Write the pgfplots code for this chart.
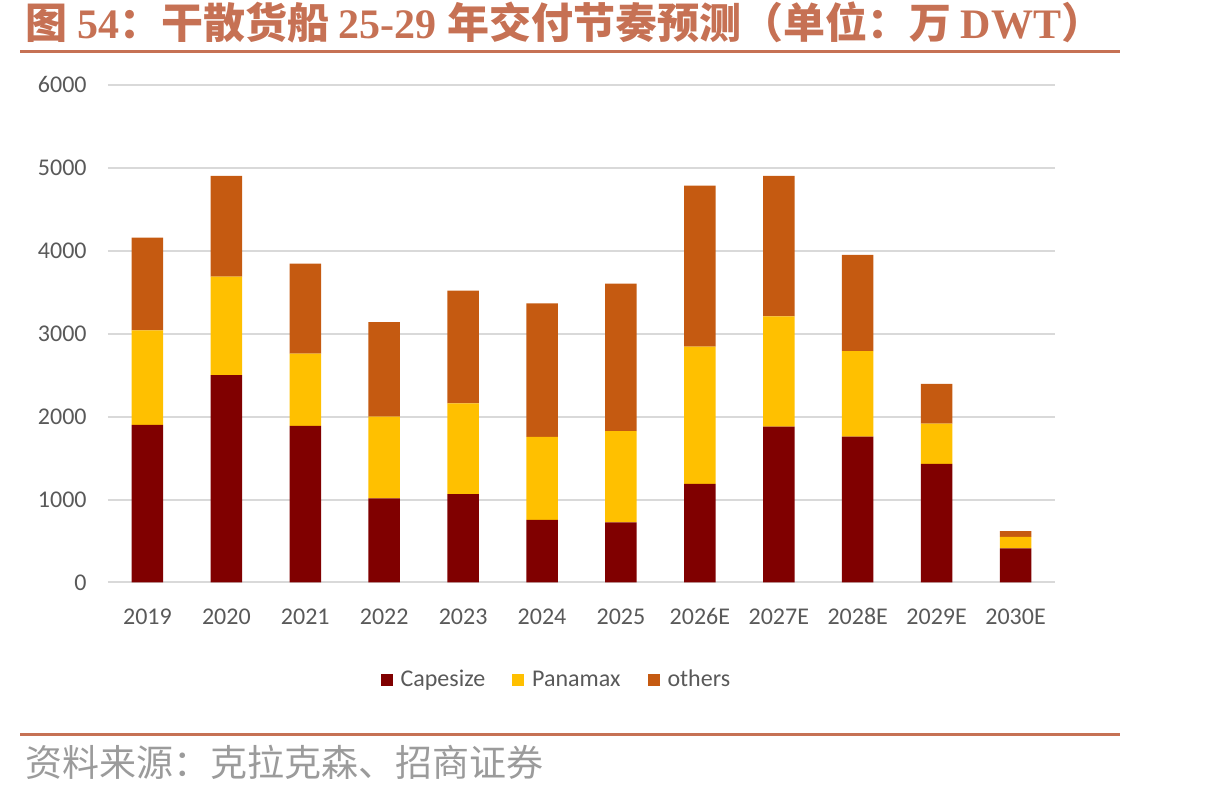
\documentclass[border=0pt]{standalone}
\usepackage{fontspec}
\usepackage{pgfplots}
\usepackage{pgfplotstable}
\pgfplotsset{compat=1.18}
\setmainfont{Carlito}
\newfontfamily\cjk{Noto Sans CJK SC}
\newfontfamily\tnr{Liberation Serif}

\definecolor{capecol}{RGB}{128,0,0}
\definecolor{panacol}{RGB}{255,192,0}
\definecolor{othcol}{RGB}{197,90,17}
\definecolor{headcol}{RGB}{198,113,84}
\definecolor{ticktxt}{RGB}{89,89,89}
\definecolor{gridcol}{RGB}{217,217,217}
\definecolor{srccol}{RGB}{155,155,155}

% deliveries, 10k DWT
\pgfplotstableread{
x cape pana others
0  1900 1140 1120
1  2500 1190 1215
2  1890  870 1085
3  1015  985 1140
4  1065 1095 1360
5   755 1000 1610
6   725 1100 1780
7  1190 1655 1940
8  1880 1330 1695
9  1760 1030 1160
10 1430  485  480
11  410  140   70
}\deliveries

\begin{document}
\begin{tikzpicture}
\path[use as bounding box] (0,0) rectangle (603.5pt,397.5pt);

% heading
\node[anchor=base west, inner sep=0pt, text=headcol, font=\fontsize{21}{24}\selectfont]
  at (12.5pt,378pt)
  {\cjk\bfseries 图 \tnr\bfseries 54\cjk\bfseries ：干散货船 \tnr\bfseries 25-29 \cjk\bfseries 年交付节奏预测（单位：万 \tnr\bfseries DWT\cjk\bfseries ）};
\draw[headcol, line width=1.5pt] (10pt,371.75pt) -- (560pt,371.75pt);
\draw[headcol, line width=1.5pt] (10pt,30pt) -- (560pt,30pt);
\node[anchor=base west, inner sep=0pt, text=srccol, font=\fontsize{18.5}{22}\selectfont]
  at (12.5pt,9pt) {\cjk 资料来源：克拉克森、招商证券};

\begin{axis}[
  at={(54pt,106.25pt)}, anchor=south west,
  scale only axis,
  width=473.5pt, height=248.75pt,
  ybar stacked,
  bar width=0.4,
  xmin=-0.5, xmax=11.5,
  ymin=0, ymax=6000,
  xtick={0,...,11},
  xticklabels={2019,2020,2021,2022,2023,2024,2025,2026E,2027E,2028E,2029E,2030E},
  ytick={0,1000,...,6000},
  ymajorgrids,
  grid style={draw=gridcol, line width=1pt},
  axis line style={draw=none},
  tick style={draw=none},
  /pgf/number format/assume math mode=true,
  /pgf/number format/1000 sep={},
  tick label style={font=\fontsize{12}{14}\selectfont, text=ticktxt},
  yticklabel style={anchor=east, inner sep=0pt, xshift=-10.5pt},
  xticklabel style={anchor=base, inner sep=0pt, yshift=-21.25pt},
  legend style={at={(0.474,-0.196)}, anchor=center, draw=none, fill=none,
    legend columns=-1, font=\fontsize{12}{14}\selectfont, text=ticktxt,
    /tikz/every odd column/.append style={column sep=2.5pt},
    /tikz/every even column/.append style={column sep=12pt},
    nodes={inner sep=1.5pt}},
  legend image code/.code={\fill[#1] (0pt,-3pt) rectangle (6pt,3pt);},
]
\addplot[fill=capecol, draw=none] table[x=x, y=cape] {\deliveries};
\addplot[fill=panacol, draw=none] table[x=x, y=pana] {\deliveries};
\addplot[fill=othcol, draw=none] table[x=x, y=others] {\deliveries};
\legend{Capesize, Panamax, others}
\end{axis}
\end{tikzpicture}
\end{document}
